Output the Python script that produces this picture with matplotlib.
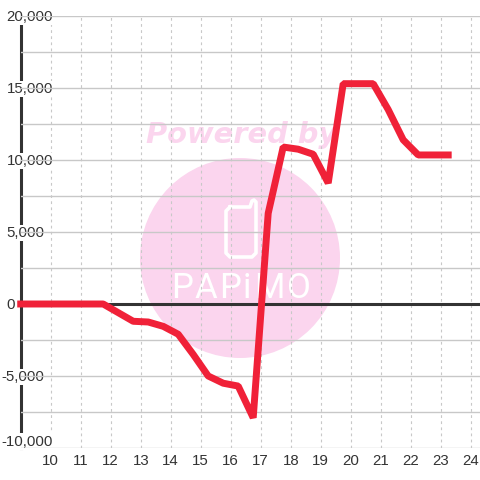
import matplotlib
matplotlib.use('Agg')
import matplotlib.pyplot as plt
from matplotlib.patches import Circle
from matplotlib.lines import Line2D
from matplotlib.ticker import FixedLocator, MultipleLocator, NullFormatter
from matplotlib.transforms import IdentityTransform, blended_transform_factory

# Values
hours = [9, 9.25, 9.75, 10.25, 10.75, 11.25, 11.75, 12.25, 12.75, 13.25, 13.75,
         14.25, 14.75, 15.25, 15.75, 16.25, 16.75, 17.25, 17.75, 18.25, 18.75,
         19.25, 19.75, 20.25, 20.75, 21.25, 21.75, 22.25, 22.75, 23.25]
values = [0, 0, 0, 0, 0, 0, 0, -600, -1200, -1250, -1550,
          -2100, -3500, -5000, -5500, -5700, -7900, 6300, 10900, 10750, 10400,
          8400, 15300, 15300, 15300, 13500, 11400, 10350, 10350, 10350]
x_ticks = list(range(10, 25))
y_ticks = [-10000, -5000, 0, 5000, 10000, 15000, 20000]

TEXT = '#333333'
GRID = '#c8c8c8'
RED = '#f02138'
PINK = '#fbd5ee'

plt.rcParams['font.family'] = ['Liberation Sans', 'DejaVu Sans']

fig = plt.figure(figsize=(4.8, 4.8), dpi=100, facecolor='white')
ax = fig.add_axes([20.7 / 480, (480 - 448) / 480, (480 - 20.7) / 480, 432 / 480])
ax.set_xlim(9, 24.31)
ax.set_ylim(-10000, 20000)

# Grid and axis lines
ax.xaxis.set_major_locator(FixedLocator(x_ticks))
ax.yaxis.set_major_locator(FixedLocator(y_ticks))
ax.yaxis.set_minor_locator(MultipleLocator(2500))
ax.yaxis.set_major_formatter(NullFormatter())
ax.grid(axis='x', color=GRID, lw=0.8, ls=(0, (2.5, 3)))
ax.grid(axis='y', which='both', color=GRID, lw=1.0)
ax.tick_params(axis='both', which='both', length=0, labelsize=10.8, labelcolor=TEXT)
ax.tick_params(axis='x', pad=4.5)
ax.xaxis.set_zorder(1.4)

for side in ['top', 'right', 'bottom']:
    ax.spines[side].set_visible(False)
ax.spines['left'].set_color(TEXT)
ax.spines['left'].set_linewidth(2.2)
ax.spines['left'].set_zorder(1)
ax.axhline(0, color=TEXT, lw=2.2, zorder=1.6)

# y labels start at the same x and sit on a white box that hides the axis
label_trans = blended_transform_factory(IdentityTransform(), ax.transData)
for v in y_ticks:
    ax.annotate(f'{v:,}', xy=(1.5 if v < 0 else 6.5, v), xycoords=label_trans,
                xytext=(0, 6.5 if v == y_ticks[0] else -1), textcoords='offset pixels',
                ha='left', va='center', fontsize=10.8, color=TEXT, zorder=1.5,
                annotation_clip=False,
                bbox=dict(facecolor='white', edgecolor='none', pad=0.8))

# Watermark, in pixels
px = IdentityTransform()
ax.add_patch(Circle((240, 480 - 258), 100, transform=px, facecolor=PINK, edgecolor='none', zorder=0))
phone_x = [230, 226, 226, 230, 252, 256, 256, 254, 252, 250, 230]
phone_y = [207, 211, 253, 257, 257, 253, 202, 200, 201, 207, 207]
ax.add_line(Line2D(phone_x, [480 - p for p in phone_y], transform=px, color='white', lw=2.6,
                   solid_joinstyle='round', zorder=0.2))
ax.text(241.5, 480 - 135, 'Powered by', transform=px, color=PINK, fontsize=20.8, fontweight='bold',
        fontstyle='italic', family='DejaVu Sans', ha='center', va='center', zorder=0.2, clip_on=False)
for letter, lx in zip('PAPiMO', [182, 206, 230, 247, 269, 299]):
    ax.text(lx, 480 - 289, letter, transform=px, color='white', fontsize=25,
            family=['Liberation Sans Narrow', 'Roboto'], ha='center', va='center', zorder=0.3)

ax.plot(hours, values, color=RED, lw=5, solid_capstyle='projecting', solid_joinstyle='bevel',
        zorder=3, clip_on=False)

fig.savefig('out.png', dpi=100)
